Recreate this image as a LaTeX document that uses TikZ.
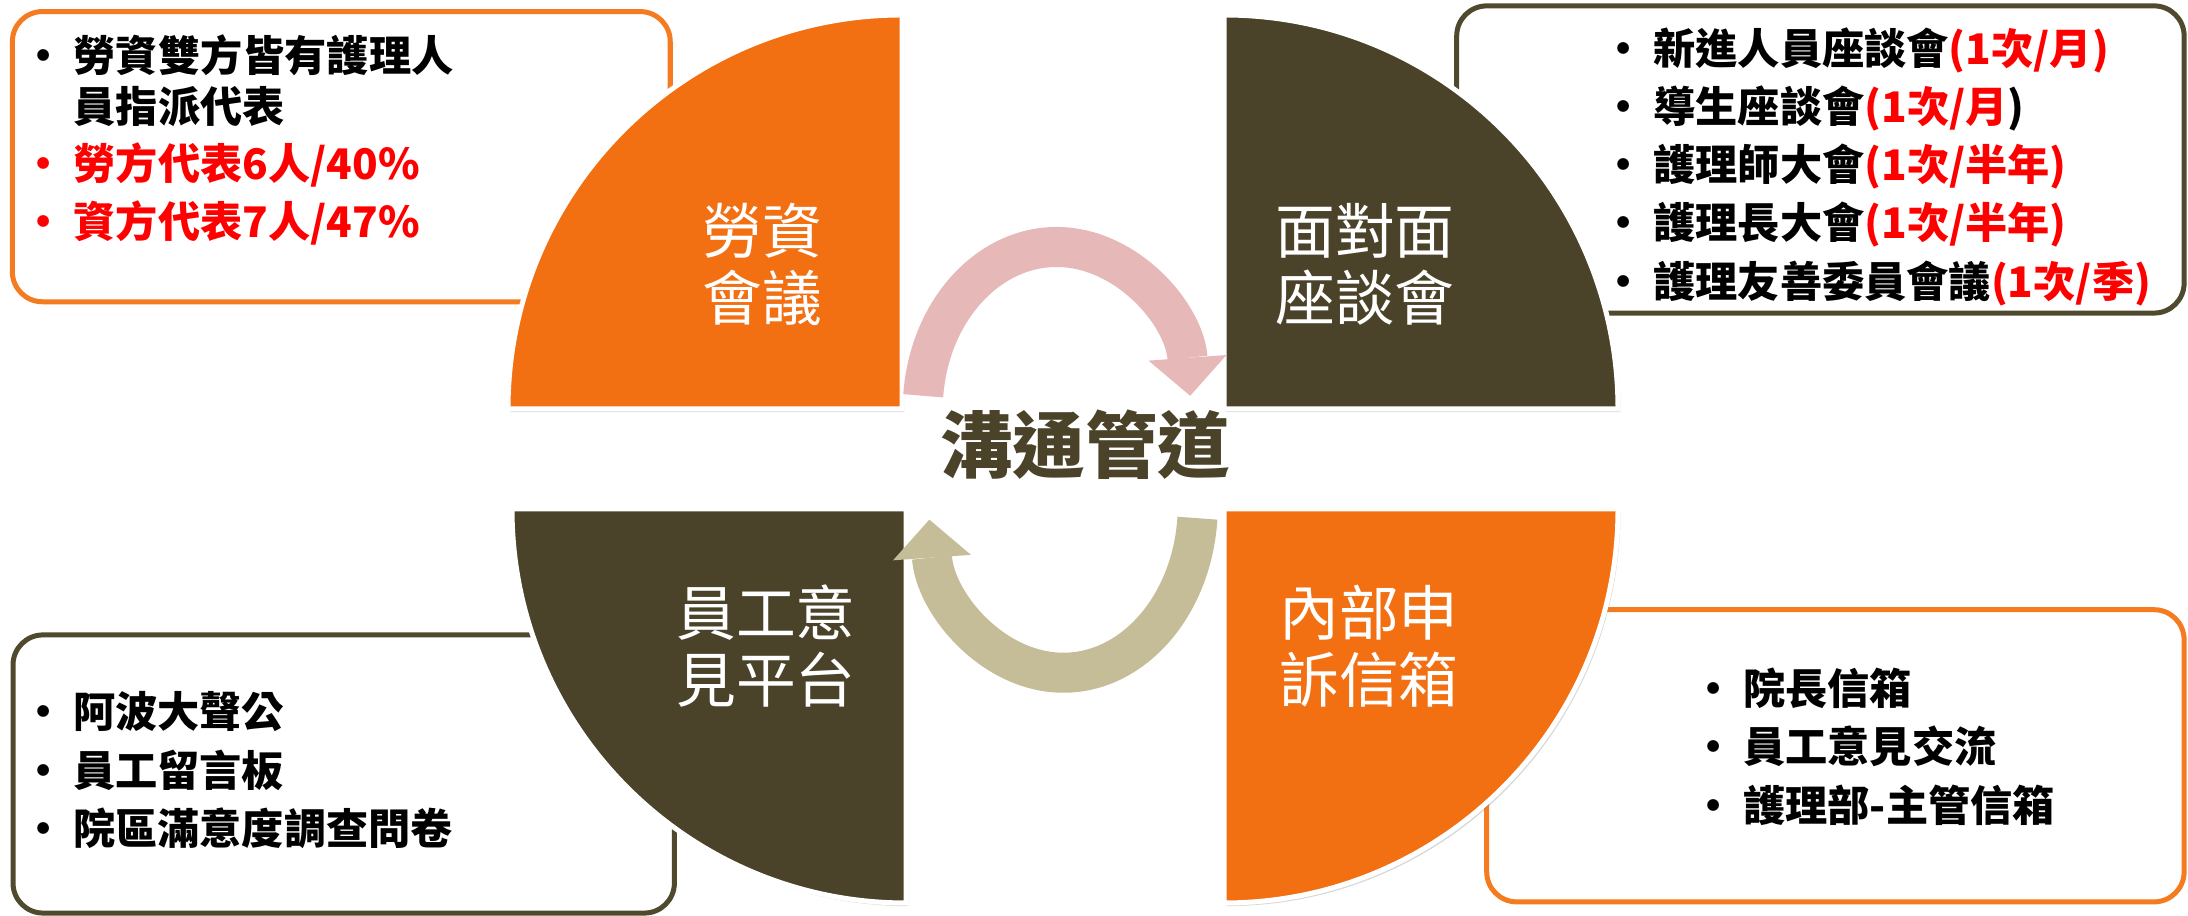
\documentclass[tikz,border=0pt]{standalone}
\usepackage{fontspec}
\newfontfamily\cjk{Noto Sans CJK TC}
\usetikzlibrary{arrows.meta,shadows}
\definecolor{quadorange}{HTML}{F26F12}
\definecolor{quaddark}{HTML}{4A432A}
\definecolor{boxorange}{HTML}{F47B20}
\definecolor{boxdark}{HTML}{4F4A2E}
\definecolor{arrowpink}{HTML}{E6B8B7}
\definecolor{arrowtan}{HTML}{C4BD97}
\definecolor{itemred}{HTML}{FF0000}
\newcommand{\redtext}[1]{\textcolor{itemred}{#1}}
\newcommand{\bul}{\makebox[0.6cm][c]{•}}

\begin{document}
\begin{tikzpicture}[x=0.01cm, y=0.01cm,
	listbox/.style={draw=#1, fill=white, line width=0.05cm, rounded corners=0.3cm},
	quarter/.style={fill=#1, draw=white, line width=0.05cm,
		drop shadow={opacity=0.3, shadow xshift=0.7pt, shadow yshift=-0.9pt}},
	quadlabel/.style={text=white, align=center, font=\cjk\fontsize{17}{19}\selectfont},
	centertitle/.style={text=quaddark, font=\cjk\bfseries\fontsize{20.6}{24}\selectfont},
	listitem/.style={anchor=west, inner sep=0pt, font=\cjk\bfseries\fontsize{12}{14}\selectfont},
	cyclearrow/.style={draw=#1, line width=0.4cm,
		-{Triangle[width=0.78cm, length=0.38cm, line width=0pt]}}]
\useasboundingbox (0,0) rectangle (2188,916);
\fill[white] (0,0) rectangle (2188,916);

% text boxes
\node[listbox=boxorange, minimum width=6.575cm, minimum height=2.9cm] (ldbox) at (341.3,759.3) {};
\node[listbox=boxdark, minimum width=7.27cm, minimum height=3.07cm] (ftfbox) at (1820.4,756.5) {};
\node[listbox=boxdark, minimum width=6.61cm, minimum height=2.78cm] (opbox) at (343.7,142) {};
\node[listbox=boxorange, minimum width=6.97cm, minimum height=2.92cm] (mbbox) at (1835.4,160.2) {};

% quarters
\path[quarter=quadorange] (902,507) -- (902,901) arc[start angle=90, end angle=180, radius=394] -- cycle;
\path[quarter=quaddark] (1224,507) -- (1618,507) arc[start angle=0, end angle=90, radius=394] -- cycle;
\path[quarter=quaddark] (906,407) -- (512,407) arc[start angle=180, end angle=270, radius=394] -- cycle;
\path[quarter=quadorange] (1224,407) -- (1224,13) arc[start angle=270, end angle=360, radius=394] -- cycle;

% arrows
\draw[cyclearrow=arrowpink] (923.2,520.2) arc[start angle=175, end angle=5, x radius=134, y radius=163];
\draw[cyclearrow=arrowtan] (1197.4,397.8) arc[start angle=-4.5, end angle=-175, x radius=134.5, y radius=167.7];

\node[quadlabel] (ldlabel) at (762,651.5) {勞資\\會議};
\node[quadlabel] (ftflabel) at (1365,651.5) {面對面\\座談會};
\node[quadlabel] (oplabel) at (766,270) {員工意\\見平台};
\node[quadlabel] (mblabel) at (1369,269.5) {內部申\\訴信箱};
\node[centertitle] (channel) at (1085,471) {溝通管道};

% labour-management meeting
\node[listitem] (ld1) at (13,861) {\bul 勞資雙方皆有護理人};
\node[listitem] (ld2) at (73,809.3) {員指派代表};
\node[listitem, text=itemred] (ld3) at (13,751) {\bul 勞方代表6人/40\%};
\node[listitem, text=itemred] (ld4) at (13,693) {\bul 資方代表7人/47\%};

% face to face
\node[listitem] (ftf1) at (1592.7,866) {\bul 新進人員座談會\redtext{(1次/月)}};
\node[listitem] (ftf2) at (1592.7,807.7) {\bul 導生座談會\redtext{(1次/月})};
\node[listitem] (ftf3) at (1592.7,749.3) {\bul 護理師大會\redtext{(1次/半年)}};
\node[listitem] (ftf4) at (1592.7,691) {\bul 護理長大會\redtext{(1次/半年)}};
\node[listitem] (ftf5) at (1592.7,632.7) {\bul 護理友善委員會議\redtext{(1次/季)}};

% opinion platform
\node[listitem] (op1) at (12.4,204.3) {\bul 阿波大聲公};
\node[listitem] (op2) at (12.4,146) {\bul 員工留言板};
\node[listitem] (op3) at (12.4,87.7) {\bul 院區滿意度調查問卷};

% mailboxes
\node[listitem] (mb1) at (1682.5,227.7) {\bul 院長信箱};
\node[listitem] (mb2) at (1682.5,169.3) {\bul 員工意見交流};
\node[listitem] (mb3) at (1682.5,111) {\bul 護理部-主管信箱};
\end{tikzpicture}
\end{document}
